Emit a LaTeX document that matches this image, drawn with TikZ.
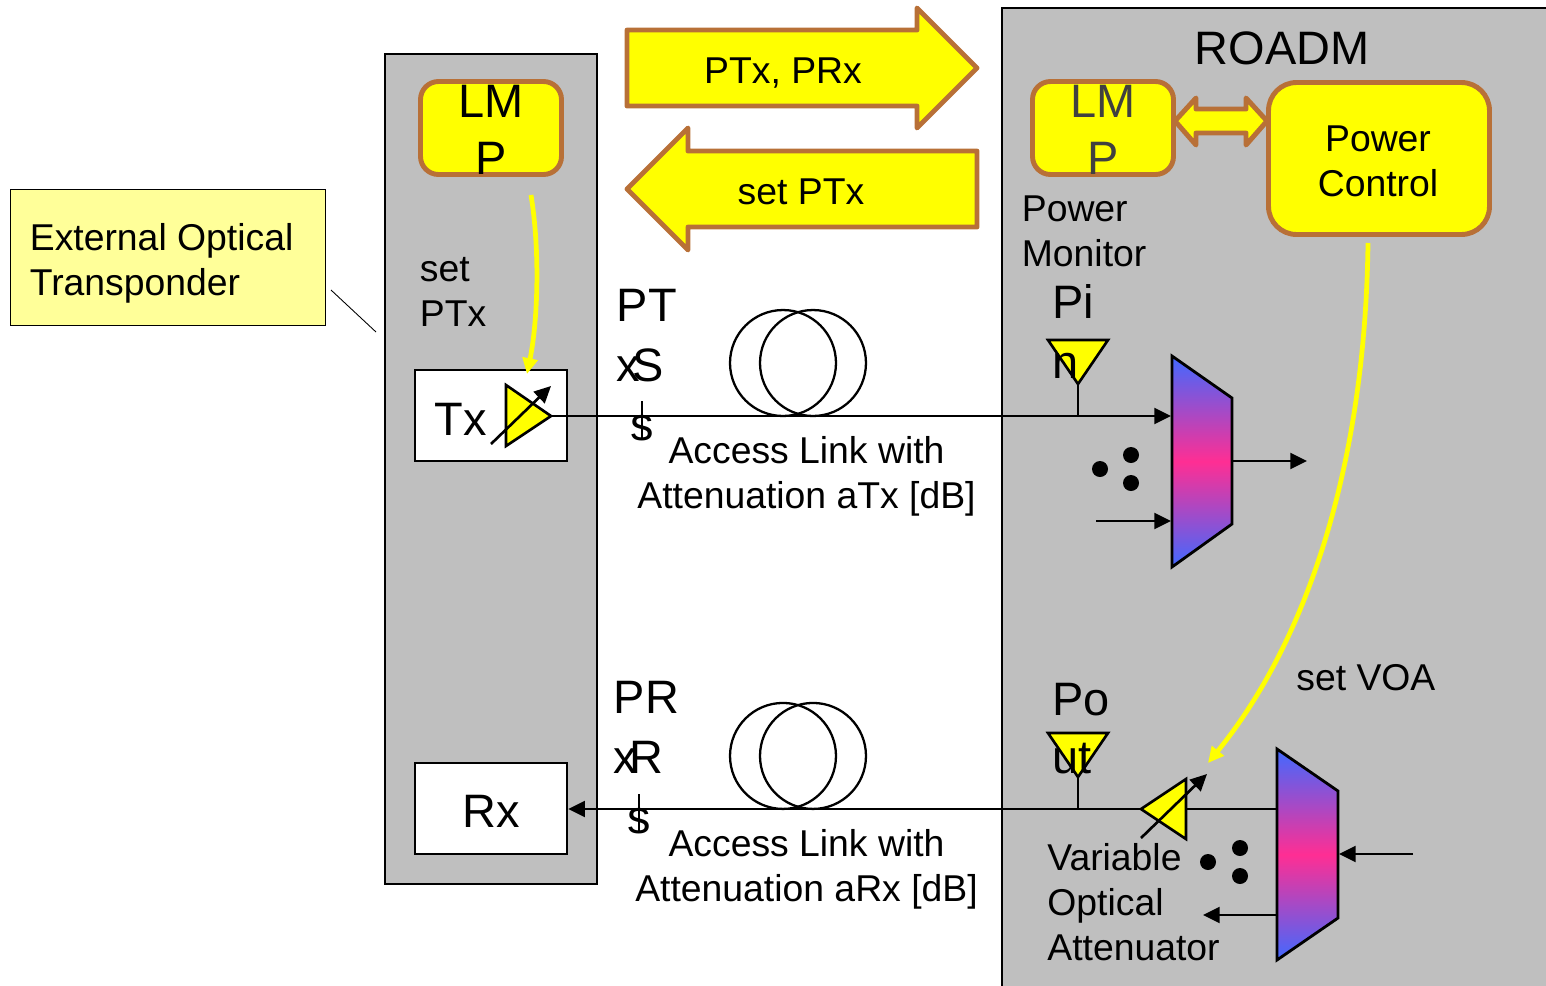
\documentclass[tikz,border=0pt]{standalone}
\usepackage{fontspec}
\setmainfont{Liberation Sans}
\usetikzlibrary{arrows.meta, positioning}
\definecolor{panelgrey}{RGB}{191,191,191}
\definecolor{trimbrown}{RGB}{184,112,55}
\definecolor{notefill}{RGB}{255,255,153}
\definecolor{muxblue}{RGB}{65,105,255}
\definecolor{muxpink}{RGB}{255,46,147}
\definecolor{lmpgrey}{RGB}{64,64,64}
\definecolor{signalyellow}{RGB}{255,255,0}
\tikzstyle{panel} = [rectangle, draw=black, line width=1.6pt, fill=panelgrey]
\tikzstyle{note} = [rectangle, minimum width=6.3cm, minimum height=2.72cm, draw=black, line width=0.5pt, fill=notefill]
\tikzstyle{lmpbox} = [rectangle, rounded corners=0.36cm, minimum width=2.82cm, minimum height=1.86cm, draw=trimbrown, line width=2.8pt, fill=signalyellow]
\tikzstyle{powerbox} = [rectangle, rounded corners=0.56cm, minimum width=4.42cm, minimum height=3.04cm, draw=trimbrown, line width=2.8pt, fill=signalyellow]
\tikzstyle{txrx} = [rectangle, minimum width=3.04cm, minimum height=1.82cm, draw=black, line width=1.5pt, fill=white]
\tikzstyle{fiber} = [circle, minimum size=2.12cm, draw=black, line width=1.3pt]
\tikzstyle{dot} = [circle, minimum size=0.32cm, inner sep=0pt, fill=black]
\tikzstyle{biglabel} = [inner sep=0pt, align=left, font=\fontsize{26.7}{32.3}\selectfont]
\tikzstyle{textlabel} = [inner sep=0pt, align=left, font=\fontsize{21.25}{25.5}\selectfont]
\tikzstyle{centerlabel} = [inner sep=0pt, align=center, font=\fontsize{21.25}{25.5}\selectfont]
\tikzstyle{bigarrow} = [draw=trimbrown, line width=2.8pt, fill=signalyellow, line join=round]
\tikzstyle{amp} = [draw=black, line width=1.5pt, fill=signalyellow, line join=miter]
\tikzstyle{mux} = [draw=black, line width=1.6pt, top color=muxblue, bottom color=muxblue, middle color=muxpink]
\tikzstyle{arrow} = [line width=1.5pt, -{Triangle[length=9.5pt,width=9pt]}]
\tikzstyle{signal} = [line width=1.5pt]
\tikzstyle{setarrow} = [draw=signalyellow, line width=2.7pt, -{Triangle[length=9pt,width=8.5pt]}]

\begin{document}
\begin{tikzpicture}[x=0.02cm, y=-0.02cm, node distance=7.86cm]
      \useasboundingbox (0,0) rectangle (1546,985);
      \clip (0,0) rectangle (1546,985);

      \path [panel] (385,54) rectangle (597,884);
      \path [panel] (1002,8) rectangle (1560,1000);

      \node (note) [note] at (167.5,257) {};
      \node (note_text) [textlabel, anchor=base west] at (29.5,295) {External Optical\\Transponder};
      \coordinate (note_end) at (376,332);
      \coordinate (note_start) at (331,290);
      \draw [line width=0.5pt] (note_start) -- (note_end);

      \node (lmp_tx) [lmpbox] at (491,128) {};
      \node (lmp_tx_text) [biglabel, align=center, anchor=base] at (491,174) {LM\\P};
      \node (lmp_roadm) [lmpbox] at (1103,128) {};
      \node (lmp_roadm_text) [biglabel, align=center, anchor=base, text=lmpgrey] at (1103,174) {LM\\P};
      \node (power) [powerbox] at (1379,158.5) {};
      \node (power_text) [centerlabel, anchor=base] at (1378,196) {Power\\Control};

      \path [bigarrow] (627,30) -- (917,30) -- (917,8) -- (977,68) -- (917,128) -- (917,106) -- (627,106) -- cycle;
      \node (ptx_prx) [centerlabel, anchor=base] at (783,83) {PTx, PRx};
      \path [bigarrow] (977,151) -- (688,151) -- (688,128) -- (627,189) -- (688,250) -- (688,227) -- (977,227) -- cycle;
      \node (set_ptx) [centerlabel, anchor=base] at (801,204) {set PTx};
      \path [bigarrow] (1175,121) -- (1196,98) -- (1196,109) -- (1246,109) -- (1246,98) -- (1267,121) -- (1246,145) -- (1246,133) -- (1196,133) -- (1196,145) -- cycle;

      \node (roadm) [biglabel, anchor=base] at (1282,64.5) {ROADM};
      \node (monitor) [textlabel, anchor=base west] at (1021.5,266) {Power\\Monitor};
      \node (set_ptx_tx) [textlabel, anchor=base west] at (419.5,326) {set\\PTx};
      \node (set_voa) [textlabel, anchor=base west] at (1296,690) {set VOA};
      \node (voa_text) [textlabel, anchor=base west] at (1047,960) {Variable\\Optical\\Attenuator};
      \node (link_tx) [centerlabel, anchor=base] at (806.5,508) {Access Link with\\Attenuation aTx [dB]};
      \node (link_rx) [centerlabel, anchor=base] at (806.5,901) {Access Link with\\Attenuation aRx [dB]};

      \node (tx) [txrx] at (491,415.5) {};
      \node (rx) [txrx, below of=tx] {};
      \node (tx_text) [biglabel, anchor=base west] at (434,435) {Tx};
      \node (rx_text) [biglabel, anchor=base] at (491,827) {Rx};

      \node (fiber_tx_a) [fiber] at (783,363) {};
      \node (fiber_tx_b) [fiber, right of=fiber_tx_a, node distance=0.6cm] {};
      \node (fiber_rx_a) [fiber, below of=fiber_tx_a] {};
      \node (fiber_rx_b) [fiber, right of=fiber_rx_a, node distance=0.6cm] {};

      \node (ptx_label) [biglabel, anchor=base west] at (616.5,381) {PT\\[1.7pt]x};
      \node (ptx_s) [biglabel, anchor=base west] at (632,381) {S};
      \node (ptx_sub) [biglabel, anchor=base] at (642,440) {s};
      \node (prx_label) [biglabel, anchor=base west] at (613.5,773) {PR\\[1.7pt]x};
      \node (prx_r) [biglabel, anchor=base west] at (629,773) {R};
      \node (prx_sub) [biglabel, anchor=base] at (639,833) {s};
      \draw [signal] (ptx_sub.base) ++(0,-1) -- ++(0,-38);
      \draw [signal] (prx_sub.base) ++(0,-1) -- ++(0,-38);

      \coordinate (amp_tip) at (551,416);
      \coordinate (mux_in_a) at (1171,416);
      \coordinate (voa_tip) at (1141,809);
      \coordinate (voa_back) at (1186,809);
      \coordinate (mux_rx_a) at (1277,809);
      \coordinate (pin_tap) at (1078,416);
      \coordinate (pin_tip) at (1078,384);
      \coordinate (pout_tap) at (1078,809);
      \coordinate (pout_tip) at (1078,777);

      \draw [signal] (pin_tip) -- (pin_tap);
      \draw [signal] (pout_tip) -- (pout_tap);
      \draw [amp] (1048,340) -- (1108,340) -- (pin_tip) -- cycle;
      \draw [amp] (1048,733) -- (1108,733) -- (pout_tip) -- cycle;
      \node (pin_label) [biglabel, anchor=base west] at (1052,378) {Pi\\[1.7pt]n};
      \node (pout_label) [biglabel, anchor=base west] at (1052,773) {Po\\[0.7pt]ut};

      \draw [amp] (506,385) -- (amp_tip) -- (506,446) -- cycle;
      \draw [arrow] (491,444) -- (551,386);
      \draw [arrow] (amp_tip) -- (mux_in_a);

      \draw [mux] (1172,356) -- (1232,398) -- (1232,524) -- (1172,567) -- cycle;
      \draw [mux] (1277,749) -- (1338,791) -- (1338,918) -- (1277,960) -- cycle;

      \draw [arrow] (voa_tip) -- (voa_tip -| rx.east);
      \draw [signal] (voa_back) -- (mux_rx_a);
      \draw [amp] (voa_tip) -- (1186,779) -- (1186,839) -- cycle;
      \draw [arrow] (1141,838) -- (1207,774);

      \draw [arrow] (1232,461) -- (1307,461);
      \draw [arrow] (1096,521) -- (1171,521);
      \draw [arrow] (1413,854) -- (1339,854);
      \draw [arrow] (1277,915) -- (1203,915);

      \node (dot_a) [dot] at (1100,469) {};
      \node (dot_b) [dot] at (1131,455) {};
      \node (dot_c) [dot] at (1131,483) {};
      \node (dot_d) [dot] at (1208,862) {};
      \node (dot_e) [dot] at (1240,848) {};
      \node (dot_f) [dot] at (1240,876) {};

      \coordinate (ctl_tx_start) at (531,195);
      \coordinate (ctl_tx_end) at (527,374);
      \coordinate (ctl_voa_start) at (1368,243);
      \coordinate (ctl_voa_end) at (1208,763);
      \draw [setarrow] (ctl_tx_start) .. controls (540,250) and (538,320) .. (ctl_tx_end);
      \draw [setarrow] (ctl_voa_start) .. controls (1365,480) and (1300,650) .. (ctl_voa_end);
    \end{tikzpicture}
\end{document}
